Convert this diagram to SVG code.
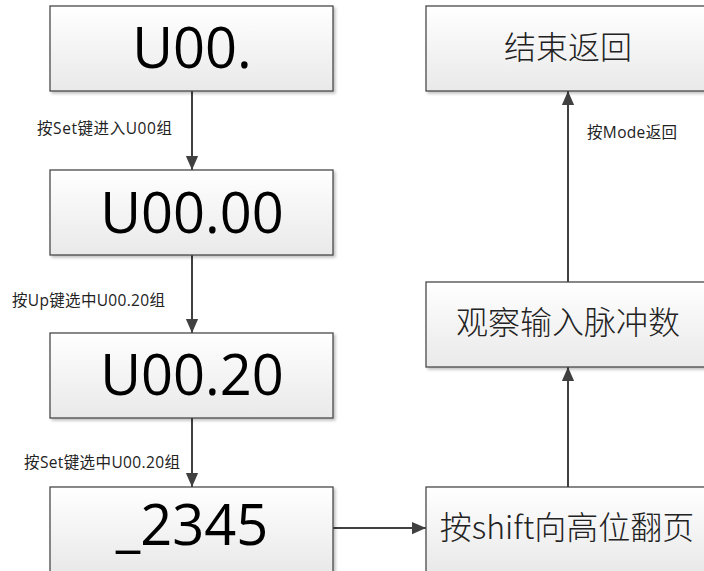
<svg xmlns="http://www.w3.org/2000/svg" width="704" height="571" viewBox="0 0 704 571">
<defs>
<linearGradient id="g" x1="0" y1="0" x2="0" y2="1">
<stop offset="0" stop-color="#ffffff"/>
<stop offset="1" stop-color="#e9e9e9"/>
</linearGradient>
<filter id="sh" x="-5%" y="-5%" width="115%" height="120%">
<feGaussianBlur in="SourceAlpha" stdDeviation="1.5"/>
<feOffset dx="2" dy="2"/>
<feComponentTransfer><feFuncA type="linear" slope="0.25"/></feComponentTransfer>
<feMerge><feMergeNode/><feMergeNode in="SourceGraphic"/></feMerge>
</filter>
<marker id="ah" markerWidth="14" markerHeight="16" refX="16" refY="7" viewBox="0 0 16 14" orient="auto" markerUnits="userSpaceOnUse">
<path d="M0,0 L16,7 L0,14 Z" fill="#404040"/>
</marker>
</defs>
<style>
.box{fill:url(#g);stroke:#4a4a4a;stroke-width:1.3;filter:url(#sh)}
.big{font-family:"Open Sans","Liberation Sans",sans-serif;font-size:56px;fill:#000;text-anchor:middle}
.cn{font-family:"Noto Sans CJK SC","Noto Sans",sans-serif;font-size:32px;font-weight:300;fill:#222;text-anchor:middle}
.lbl{font-family:"Open Sans","Noto Sans CJK SC",sans-serif;font-size:15.5px;fill:#222}
.con{stroke:#404040;stroke-width:2;fill:none;marker-end:url(#ah)}
</style>
<rect width="704" height="571" fill="#fff"/>
<g id="connectors">
<line class="con" x1="192" y1="91" x2="192" y2="170"/>
<line class="con" x1="192" y1="255" x2="192" y2="333"/>
<line class="con" x1="192" y1="418" x2="192" y2="487"/>
<line class="con" x1="333" y1="528" x2="426" y2="528"/>
<line class="con" x1="568" y1="487" x2="568" y2="367"/>
<line class="con" x1="568" y1="282" x2="568" y2="91"/>
</g>
<g id="n1"><rect class="box" x="50" y="6" width="283" height="85"/><text class="big" x="192" y="68">U00.</text></g>
<g id="n2"><rect class="box" x="50" y="170" width="283" height="85"/><text class="big" x="192" y="233">U00.00</text></g>
<g id="n3"><rect class="box" x="50" y="333" width="283" height="85"/><text class="big" x="192" y="395">U00.20</text></g>
<g id="n4"><rect class="box" x="50" y="487" width="283" height="85"/><text class="big" x="192" y="545">_2345</text></g>
<g id="n5"><rect class="box" x="426" y="6" width="284" height="85"/><text class="cn" x="568" y="59">结束返回</text></g>
<g id="n6"><rect class="box" x="426" y="282" width="284" height="85"/><text class="cn" x="568" y="334">观察输入脉冲数</text></g>
<g id="n7"><rect class="box" x="426" y="487" width="284" height="85"/><text class="cn" x="567" y="539">按shift向高位翻页</text></g>
<g id="labels">
<text class="lbl" x="37" y="134" textLength="135">按Set键进入U00组</text>
<text class="lbl" x="12" y="306" textLength="153">按Up键选中U00.20组</text>
<text class="lbl" x="24" y="468" textLength="156">按Set键选中U00.20组</text>
<text class="lbl" x="587" y="138" textLength="90">按Mode返回</text>
</g>
</svg>
